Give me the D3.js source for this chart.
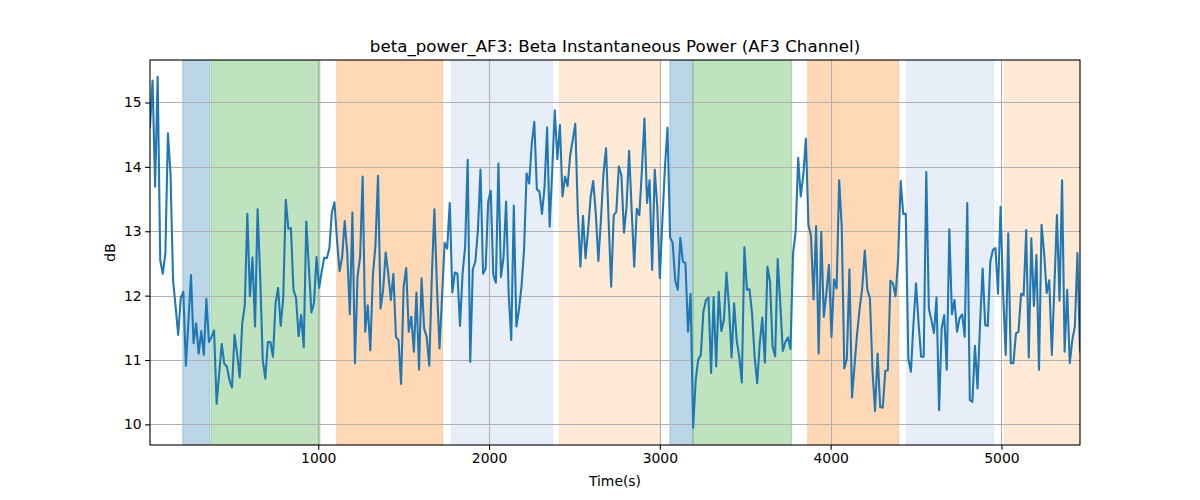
<!DOCTYPE html>
<html><head><meta charset="utf-8">
<script src="https://cdn.jsdelivr.net/npm/d3@7"></script>
<style>
body{margin:0;background:#fff;}
svg{display:block;}
text{font-family:"DejaVu Sans",sans-serif;fill:#000;}
</style>
</head><body><svg id="chart" width="1200" height="500"></svg>
<script>
// ---- data ----
const powerDb = [
14.62,15.34,13.69,15.40,12.55,12.34,12.66,14.52,13.90,12.24,11.83,11.39,11.96,12.06,10.91,11.6,12.32,11.26,11.57,11.10,11.45,11.08,11.95,11.28,11.36,11.46,10.32,10.79,11.25,10.94,10.90,10.69,10.57,11.39,11.10,10.73,11.57,11.85,13.27,11.99,12.59,11.52,13.34,12.3,11.0,10.71,
11.28,11.28,11.05,11.88,12.12,11.53,11.96,13.49,13.04,13.05,12.09,11.97,11.37,11.70,11.20,13.15,12.45,11.74,11.88,12.60,12.12,12.37,12.59,12.58,12.73,13.30,13.45,12.86,12.38,12.60,13.16,12.66,11.71,13.29,10.95,12.29,12.60,13.85,11.44,11.85,11.15,12.32,12.78,13.86,11.80,
12.09,12.67,12.34,11.93,12.34,11.36,11.31,10.63,12.14,12.43,11.44,11.67,11.13,12.05,10.85,12.27,11.49,11.36,10.91,12.29,13.34,12.14,11.18,11.98,12.82,12.73,13.44,12.05,12.36,12.34,11.53,12.34,12.76,14.11,10.97,12.41,12.53,13.02,13.96,12.34,12.42,13.46,13.63,12.32,
12.20,14.05,12.29,12.60,13.46,12.03,11.31,13.40,11.52,11.78,12.14,12.71,13.90,13.74,14.36,14.70,13.65,13.62,13.27,13.69,14.61,13.07,13.95,14.88,14.12,14.65,13.54,13.85,13.70,14.18,14.42,14.67,13.28,12.45,13.24,12.58,13.02,13.54,13.78,13.28,12.54,13.17,13.90,14.29,13.17,
12.14,13.25,13.30,14.01,13.87,12.98,13.38,14.25,13.33,12.45,13.35,13.25,13.95,14.75,13.44,13.79,12.40,13.96,13.38,12.27,13.17,14.00,14.61,12.91,12.82,12.24,12.09,12.90,12.53,12.50,11.44,12.03,9.95,10.69,11.01,11.08,11.75,11.93,11.97,10.80,11.98,10.90,12.06,11.45,11.62,
12.36,11.83,11.04,11.88,11.31,11.05,10.65,12.75,12.09,12.10,11.72,11.05,10.64,11.26,11.66,10.96,12.45,12.22,11.21,11.06,12.57,11.88,11.14,11.28,11.35,11.17,12.66,12.99,14.14,13.54,13.87,14.44,13.10,12.93,11.94,13.08,11.10,12.99,11.67,12.03,12.48,11.36,12.25,12.11,13.79,
13.07,10.87,11.02,12.41,10.42,10.92,11.41,11.80,12.12,12.70,12.09,11.96,10.84,10.21,11.10,10.27,10.26,10.83,10.84,12.23,12.19,11.99,12.55,13.78,13.27,13.27,11.02,10.82,11.57,12.19,11.57,11.05,11.05,13.92,11.80,11.62,11.42,11.97,10.22,11.49,11.70,10.85,13.03,11.71,11.93,
11.44,11.65,11.71,11.36,13.44,10.38,10.35,11.22,10.56,11.57,12.42,11.54,11.53,12.53,12.71,12.74,12.03,13.38,12.03,11.08,12.97,10.95,10.95,11.41,11.44,12.03,12.01,13.02,11.04,12.89,11.84,12.63,10.85,13.10,12.66,12.04,12.24,11.08,12.14,13.25,11.92,13.79,11.13,12.09,10.95,11.31,11.52,12.66,11.13
];
const firstTime = 15;      // seconds of first sample
const sampleStep = 15;     // seconds between samples

const spanStarts = [207, 373, 1109, 1781, 2413, 3059, 3194, 3866, 4445, 5019];
const spanEnds   = [365, 1010, 1728, 2372, 2999, 3194, 3772, 4397, 4955, 5460];
const spanKinds  = ["A","B","C","D","E","A","B","C","D","E"];

const xTickValues = [1000, 2000, 3000, 4000, 5000];
const yTickValues = [10, 11, 12, 13, 14, 15];
const yLimits = [9.68, 15.66];

const chartTitle = "beta_power_AF3: Beta Instantaneous Power (AF3 Channel)";
const xLabel = "Time(s)";
const yLabel = "dB";

// ---- styles ----
const kindColor = {A:"#1f77b4", B:"#2ca02c", C:"#ff7f0e", D:"#aec7e8", E:"#ffbb78"};

const margin = {left:150, right:120, top:60, bottom:55};
const W = 1200, H = 500;
const iw = W - margin.left - margin.right, ih = H - margin.top - margin.bottom;

const points = powerDb.map((v,i)=>({t: firstTime + i*sampleStep, v}));
const svg = d3.select("#chart");

const x = d3.scaleLinear().domain(d3.extent(points, d=>d.t)).range([margin.left, margin.left+iw]);
const y = d3.scaleLinear().domain(yLimits).range([margin.top+ih, margin.top]);

svg.append("defs").append("clipPath").attr("id","clip")
  .append("rect").attr("x",margin.left).attr("y",margin.top).attr("width",iw).attr("height",ih);

const plot = svg.append("g").attr("clip-path","url(#clip)");

// spans
const spans = spanStarts.map((s,i)=>({s, e: spanEnds[i], k: spanKinds[i]}));
plot.selectAll("rect.span").data(spans).enter().append("rect")
  .attr("class","span")
  .attr("x", d=>x(d.s)).attr("width", d=>x(d.e)-x(d.s))
  .attr("y", margin.top).attr("height", ih)
  .attr("fill", d=>kindColor[d.k]).attr("fill-opacity",0.3)
  .attr("stroke", d=>kindColor[d.k]).attr("stroke-opacity",0.3).attr("stroke-width",1);

// grid
const grid = plot.append("g");
grid.selectAll("line.gx").data(xTickValues).enter().append("line")
  .attr("x1",d=>Math.round(x(d))+0.5).attr("x2",d=>Math.round(x(d))+0.5)
  .attr("y1",margin.top).attr("y2",margin.top+ih)
  .attr("stroke","#b0b0b0").attr("stroke-width",1.1);
grid.selectAll("line.gy").data(yTickValues).enter().append("line")
  .attr("y1",d=>Math.round(y(d))+0.5).attr("y2",d=>Math.round(y(d))+0.5)
  .attr("x1",margin.left).attr("x2",margin.left+iw)
  .attr("stroke","#b0b0b0").attr("stroke-width",1.1);

// line
plot.append("path").datum(points)
  .attr("d", d3.line().x(d=>x(d.t)).y(d=>y(d.v)))
  .attr("fill","none").attr("stroke","#1f77b4").attr("stroke-width",2.08)
  .attr("stroke-linejoin","round").attr("stroke-linecap","square");

// axes
const xAxis = d3.axisBottom(x).tickValues(xTickValues).tickFormat(d3.format("d")).tickSizeOuter(0).tickSize(4.86).tickPadding(3.5);
const yAxis = d3.axisLeft(y).tickValues(yTickValues).tickFormat(d3.format("d")).tickSizeOuter(0).tickSize(4.86).tickPadding(3.5);
const gx = svg.append("g").attr("transform",`translate(0,${margin.top+ih})`).call(xAxis);
const gy = svg.append("g").attr("transform",`translate(${margin.left},0)`).call(yAxis);
[gx,gy].forEach(g=>{
  g.select(".domain").remove();
  g.selectAll(".tick line").attr("stroke","#000").attr("stroke-width",1.1);
  g.selectAll(".tick text").attr("font-family","DejaVu Sans").attr("font-size","13.9px").attr("fill","#000");
});

// spines
svg.append("rect").attr("x",margin.left).attr("y",margin.top).attr("width",iw).attr("height",ih)
  .attr("fill","none").attr("stroke","#000").attr("stroke-width",1.1);

// labels
svg.append("text").attr("x",margin.left+iw/2).attr("y",margin.top-8.5)
  .attr("text-anchor","middle").attr("font-size","16.7px").text(chartTitle);
svg.append("text").attr("x",margin.left+iw/2).attr("y",486)
  .attr("text-anchor","middle").attr("font-size","13.9px").text(xLabel);
svg.append("text").attr("transform",`translate(115,${margin.top+ih/2}) rotate(-90)`)
  .attr("text-anchor","middle").attr("font-size","13.9px").text(yLabel);
</script>
</body></html>
